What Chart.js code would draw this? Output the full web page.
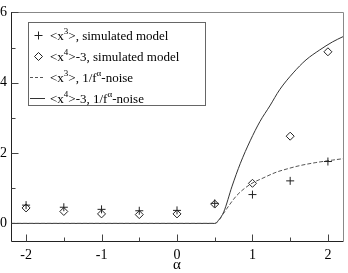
<!DOCTYPE html>
<html><head><meta charset="utf-8">
<script src="https://cdn.jsdelivr.net/npm/chart.js@4"></script>
<style>html,body{margin:0;padding:0;background:#fff}#wrap{width:348px;height:273px;position:relative}</style>
</head><body><div id="wrap"><canvas id="c"></canvas></div>
<script>
// simulated model points
const alphaSim = [-2, -1.5, -1, -0.5, 0, 0.5, 1, 1.5, 2];
const skewSim  = [0.52, 0.46, 0.40, 0.36, 0.37, 0.57, 0.82, 1.21, 1.76];
const kurtSim  = [0.44, 0.34, 0.27, 0.25, 0.27, 0.55, 1.14, 2.48, 4.88];
// 1/f^alpha noise curves
const alphaSkewNoise = [-2.2, 0.5, 0.55, 0.6, 0.66, 0.79, 0.97, 1.14, 1.32, 1.41, 1.62, 1.84, 2.06, 2.2];
const skewNoise      = [0, 0, 0.07, 0.23, 0.42, 0.79, 1.11, 1.29, 1.46, 1.52, 1.64, 1.73, 1.80, 1.84];
const alphaKurtNoise = [-2.2, 0.5, 0.55, 0.62, 0.73, 0.84, 0.97, 1.10, 1.23, 1.36, 1.54, 1.71, 1.89, 2.06, 2.2];
const kurtNoise      = [0, 0, 0.09, 0.33, 1.06, 1.71, 2.35, 2.90, 3.34, 3.80, 4.28, 4.65, 4.93, 5.16, 5.31];
// axis ticks
const xMajor = [-2, -1, 0, 1, 2];
const xMinor = [-1.5, -0.5, 0.5, 1.5];
const yMajor = [0, 2, 4, 6];
const yMinor = [1, 3, 5];
const legendItems = [
  {kind:'plus',  parts:[['<x',0],['3',1],['>, simulated model',0]]},
  {kind:'diamond', parts:[['<x',0],['4',1],['>-3, simulated model',0]]},
  {kind:'dash',  parts:[['<x',0],['3',1],['>, 1/f',0],['α',1],['-noise',0]]},
  {kind:'solid', parts:[['<x',0],['4',1],['>-3, 1/f',0],['α',1],['-noise',0]]}
];

const SERIF = '"Liberation Serif", "DejaVu Serif", serif';
const pts = (xs, ys) => xs.map((x, i) => ({x: x, y: ys[i]}));

const framePlugin = {
  id: 'frame',
  afterDatasetsDraw(chart) {
    const ctx = chart.ctx, a = chart.chartArea;
    const xs = chart.scales.x, ys = chart.scales.y;
    ctx.save();
    ctx.lineWidth = 1;
    ctx.strokeStyle = '#888';
    ctx.beginPath();
    ctx.moveTo(Math.round(a.left), Math.round(a.top) + 0.5);
    ctx.lineTo(Math.round(a.right) + 0.5, Math.round(a.top) + 0.5);
    ctx.lineTo(Math.round(a.right) + 0.5, Math.round(a.bottom));
    ctx.stroke();
    ctx.strokeStyle = '#222';
    ctx.beginPath();
    ctx.moveTo(Math.round(a.left) + 0.5, Math.round(a.top));
    ctx.lineTo(Math.round(a.left) + 0.5, Math.round(a.bottom) + 0.5);
    ctx.lineTo(Math.round(a.right) + 0.5, Math.round(a.bottom) + 0.5);
    ctx.stroke();
    ctx.strokeStyle = '#444';
    ctx.beginPath();
    const b = Math.round(a.bottom) + 0.5, l = Math.round(a.left) + 0.5;
    xMajor.forEach(v => { const p = Math.round(xs.getPixelForValue(v)) + 0.5; ctx.moveTo(p, b); ctx.lineTo(p, b - 7); });
    xMinor.forEach(v => { const p = Math.round(xs.getPixelForValue(v)) + 0.5; ctx.moveTo(p, b); ctx.lineTo(p, b - 4); });
    yMajor.forEach(v => { const p = Math.round(ys.getPixelForValue(v)) + 0.5; ctx.moveTo(l, p); ctx.lineTo(l + 7, p); });
    yMinor.forEach(v => { const p = Math.round(ys.getPixelForValue(v)) + 0.5; ctx.moveTo(l, p); ctx.lineTo(l + 4, p); });
    ctx.stroke();
    ctx.restore();
  },
  afterDraw(chart) {
    const ctx = chart.ctx;
    ctx.save();
    const bx = 28.5, by = 22.5, bw = 177, bh = 83;
    ctx.fillStyle = '#fff';
    ctx.fillRect(bx, by, bw, bh);
    ctx.strokeStyle = '#666';
    ctx.lineWidth = 1;
    ctx.strokeRect(bx, by, bw, bh);
    const rowY = [35, 56, 77, 98];
    legendItems.forEach((it, i) => {
      const y = rowY[i];
      ctx.strokeStyle = '#222';
      ctx.lineWidth = 1;
      ctx.beginPath();
      if (it.kind === 'plus') {
        ctx.moveTo(34.5, y + 0.5); ctx.lineTo(42.5, y + 0.5);
        ctx.moveTo(38.5, y - 3.5); ctx.lineTo(38.5, y + 4.5);
        ctx.stroke();
      } else if (it.kind === 'diamond') {
        ctx.moveTo(38.5, y - 3.5); ctx.lineTo(42.5, y + 0.5); ctx.lineTo(38.5, y + 4.5); ctx.lineTo(34.5, y + 0.5); ctx.closePath();
        ctx.stroke();
      } else if (it.kind === 'dash') {
        ctx.strokeStyle = '#555';
        ctx.setLineDash([3, 2]);
        ctx.moveTo(30, y + 0.5); ctx.lineTo(45, y + 0.5);
        ctx.stroke();
        ctx.setLineDash([]);
      } else {
        ctx.strokeStyle = '#333';
        ctx.moveTo(30, y + 0.5); ctx.lineTo(45, y + 0.5);
        ctx.stroke();
      }
      let x = 50;
      ctx.fillStyle = '#000';
      ctx.textBaseline = 'alphabetic';
      it.parts.forEach(([t, sup]) => {
        ctx.font = (sup ? '9px ' : '13px ') + SERIF;
        ctx.fillText(t, x, y + 5 - (sup ? 6 : 0));
        x += ctx.measureText(t).width;
      });
    });
    ctx.restore();
  }
};

new Chart(document.getElementById('c'), {
  type: 'scatter',
  data: {
    datasets: [
      {label: 'skewSim', data: pts(alphaSim, skewSim), pointStyle: 'cross', pointRadius: 4, pointBorderColor: '#222', pointBorderWidth: 1, showLine: false},
      {label: 'kurtSim', data: pts(alphaSim, kurtSim), pointStyle: 'rectRot', pointRadius: 4, pointBorderColor: '#222', pointBackgroundColor: 'rgba(0,0,0,0)', pointBorderWidth: 1, showLine: false},
      {label: 'skewNoise', data: pts(alphaSkewNoise, skewNoise), showLine: true, pointRadius: 0, borderColor: '#555', borderWidth: 1, borderDash: [4, 2], cubicInterpolationMode: 'monotone', fill: false},
      {label: 'kurtNoise', data: pts(alphaKurtNoise, kurtNoise), showLine: true, pointRadius: 0, borderColor: '#333', borderWidth: 1, cubicInterpolationMode: 'monotone', fill: false}
    ]
  },
  options: {
    responsive: true,
    maintainAspectRatio: false,
    animation: false,
    devicePixelRatio: 1,
    layout: {padding: {left: 0, right: 2, top: 5, bottom: 0}},
    plugins: {legend: {display: false}, tooltip: {enabled: false}},
    scales: {
      x: {
        type: 'linear', min: -2.2, max: 2.2,
        afterBuildTicks: s => { s.ticks = xMajor.map(v => ({value: v})); },
        afterFit: s => { s.height = 32; },
        grid: {display: false, drawTicks: false},
        border: {display: false},
        ticks: {color: '#000', padding: 6, font: {family: SERIF, size: 14}, maxRotation: 0},
        title: {display: true, text: 'α', color: '#000', font: {family: SERIF, size: 15, lineHeight: 1}, padding: {top: 0, bottom: 0}}
      },
      y: {
        type: 'linear', min: -0.5, max: 6,
        afterBuildTicks: s => { s.ticks = yMajor.map(v => ({value: v})); },
        afterFit: s => { s.width = 11; },
        grid: {display: false, drawTicks: false},
        border: {display: false},
        ticks: {color: '#000', padding: 4, font: {family: SERIF, size: 14}}
      }
    }
  },
  plugins: [framePlugin]
});
</script>
</body></html>
